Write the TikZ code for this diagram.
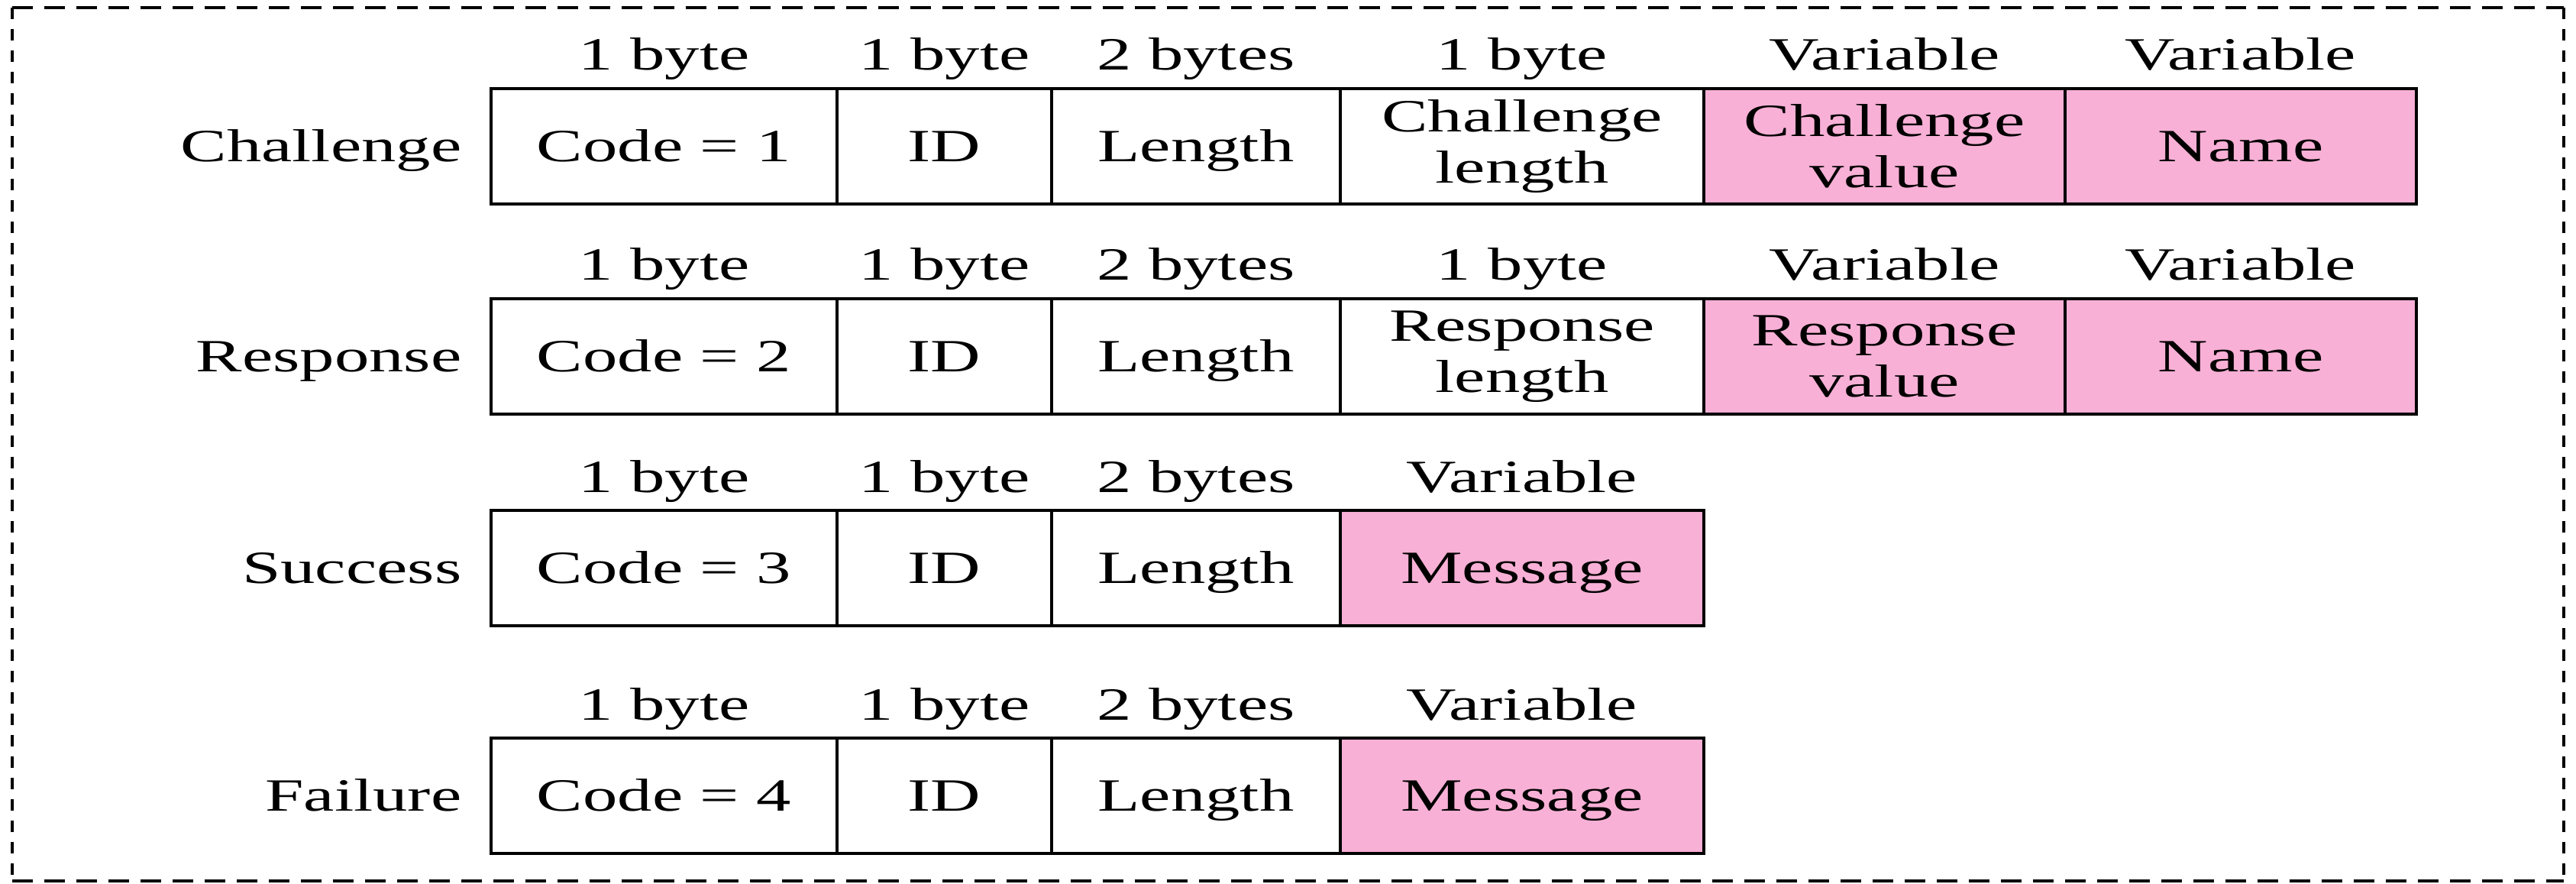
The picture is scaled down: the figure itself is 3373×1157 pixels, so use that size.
\documentclass[tikz,border=0pt]{standalone}
\usepackage{fontspec}
\setmainfont[FakeStretch=1.5]{Liberation Serif}
\usetikzlibrary{positioning}
\definecolor{fieldpink}{RGB}{248,176,214}
\newcommand{\pktfont}{\fontsize{17.2pt}{19pt}\selectfont}
\tikzset{
  field/.style={
    rectangle,
    draw=black,
    line width=0.9pt,
    inner sep=0pt,
    outer sep=0pt,
    minimum height=15.1mm,
    align=center,
    font=\pktfont
  },
  one line/.style={
    text height=11.4pt,
    text depth=0pt
  },
  var field/.style={
    field,
    fill=fieldpink
  },
  size label/.style={
    anchor=base,
    inner sep=0pt,
    font=\pktfont
  },
  row label/.style={
    anchor=base east,
    inner sep=0pt,
    font=\pktfont
  },
  frame h/.style={
    line width=0.9pt,
    dash pattern=on 2.7mm off 1.5mm
  },
  frame v/.style={
    line width=0.9pt,
    dash pattern=on 1.5mm off 1.3mm
  }
}

\begin{document}
\begin{tikzpicture}[x=0.1mm, y=-0.1mm]
    \useasboundingbox (0,0) rectangle (3373,1157);

    % dashed outer frame
    \draw[frame h] (16,10) -- (3357,10) (16,1153) -- (3357,1153);
    \draw[frame v] (16,10) -- (16,1153) (3357,10) -- (3357,1153);

    % common fields: code, identifier, length
    \foreach \row/\name/\code/\top in {chal/Challenge/1/116, resp/Response/2/391, succ/Success/3/668, fail/Failure/4/966} {
      \node[field, one line, anchor=north west, minimum width=45.3mm] (\row-code) at (643,\top) {Code = \code};
      \node[field, one line, minimum width=28.1mm, right=0pt of \row-code] (\row-id) {ID};
      \node[field, one line, minimum width=37.8mm, right=0pt of \row-id] (\row-len) {Length};
      \node[row label] (\row-name) at ([xshift=-3.8mm, yshift=-2mm]\row-code.west) {\name};
      \node[size label] (\row-s1) at ([yshift=2.4mm]\row-code.north) {1 byte};
      \node[size label] (\row-s2) at ([yshift=2.4mm]\row-id.north) {1 byte};
      \node[size label] (\row-s3) at ([yshift=2.4mm]\row-len.north) {2 bytes};
    }

    % Challenge
    \node[field, minimum width=47.6mm, right=0pt of chal-len] (chal-vlen) {Challenge\\length};
    \node[var field, minimum width=47.3mm, right=0pt of chal-vlen] (chal-val) {Challenge\\value};
    \node[var field, one line, minimum width=46.0mm, right=0pt of chal-val] (chal-nm) {Name};
    \node[size label] (chal-s4) at ([yshift=2.4mm]chal-vlen.north) {1 byte};
    \node[size label] (chal-s5) at ([yshift=2.4mm]chal-val.north) {Variable};
    \node[size label] (chal-s6) at ([yshift=2.4mm]chal-nm.north) {Variable};

    % Response
    \node[field, minimum width=47.6mm, right=0pt of resp-len] (resp-vlen) {Response\\length};
    \node[var field, minimum width=47.3mm, right=0pt of resp-vlen] (resp-val) {Response\\value};
    \node[var field, one line, minimum width=46.0mm, right=0pt of resp-val] (resp-nm) {Name};
    \node[size label] (resp-s4) at ([yshift=2.4mm]resp-vlen.north) {1 byte};
    \node[size label] (resp-s5) at ([yshift=2.4mm]resp-val.north) {Variable};
    \node[size label] (resp-s6) at ([yshift=2.4mm]resp-nm.north) {Variable};

    % Success
    \node[var field, one line, minimum width=47.6mm, right=0pt of succ-len] (succ-msg) {Message};
    \node[size label] (succ-s4) at ([yshift=2.4mm]succ-msg.north) {Variable};

    % Failure
    \node[var field, one line, minimum width=47.6mm, right=0pt of fail-len] (fail-msg) {Message};
    \node[size label] (fail-s4) at ([yshift=2.4mm]fail-msg.north) {Variable};

\end{tikzpicture}
\end{document}
